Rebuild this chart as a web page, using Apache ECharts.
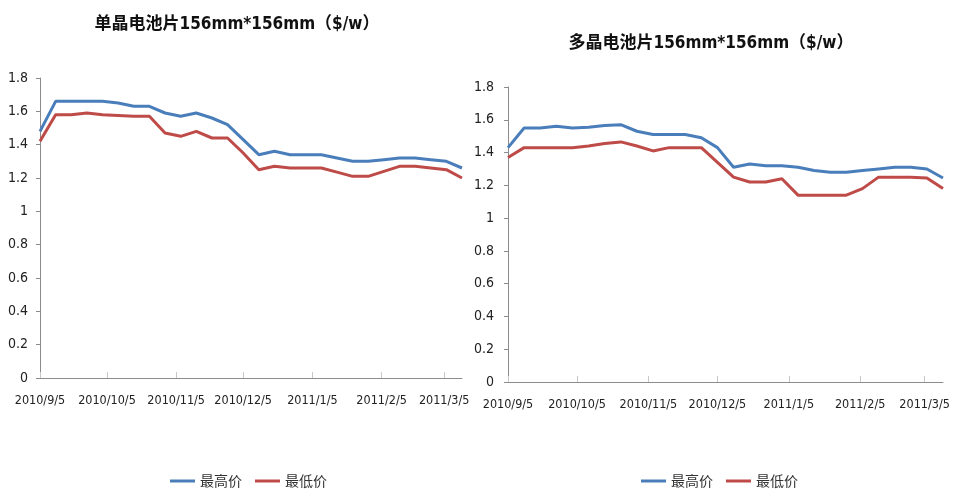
<!DOCTYPE html>
<html><head><meta charset="utf-8">
<script src="https://cdn.jsdelivr.net/npm/echarts@6/dist/echarts.min.js"></script>
<style>html,body{margin:0;padding:0;background:#fff}#c{width:956px;height:492px}</style>
</head><body><div id="c"></div>
<script>
// weekly observation dates
const weeks = ['2010/9/5','2010/9/12','2010/9/19','2010/9/26','2010/10/3','2010/10/10','2010/10/17','2010/10/24','2010/10/31','2010/11/7','2010/11/14','2010/11/21','2010/11/28','2010/12/5','2010/12/12','2010/12/19','2010/12/26','2011/1/2','2011/1/9','2011/1/16','2011/1/23','2011/1/30','2011/2/6','2011/2/13','2011/2/20','2011/2/27','2011/3/6','2011/3/13'];
const tickLabels = ['2010/9/5','2010/10/5','2010/11/5','2010/12/5','2011/1/5','2011/2/5','2011/3/5'];
const axisStart = '2010/9/5';
const axisEnd = '2011/3/13';
const seriesNames = ['最高价','最低价'];
const titles = ['单晶电池片156mm*156mm（$/w）','多晶电池片156mm*156mm（$/w）'];
// 单晶 (mono)
const monoHigh = [1.48,1.66,1.66,1.66,1.66,1.65,1.63,1.63,1.59,1.57,1.59,1.56,1.52,1.43,1.34,1.36,1.34,1.34,1.34,1.32,1.30,1.30,1.31,1.32,1.32,1.31,1.30,1.26];
const monoLow  = [1.42,1.58,1.58,1.59,1.58,1.575,1.57,1.57,1.47,1.45,1.48,1.44,1.44,1.35,1.25,1.27,1.26,1.26,1.26,1.235,1.21,1.21,1.24,1.27,1.27,1.26,1.25,1.20];
// 多晶 (poly)
const polyHigh = [1.43,1.55,1.55,1.56,1.55,1.555,1.565,1.57,1.53,1.51,1.51,1.51,1.49,1.43,1.31,1.33,1.32,1.32,1.31,1.29,1.28,1.28,1.29,1.30,1.31,1.31,1.30,1.245];
const polyLow  = [1.37,1.43,1.43,1.43,1.43,1.44,1.455,1.465,1.44,1.41,1.43,1.43,1.43,1.34,1.25,1.22,1.22,1.24,1.14,1.14,1.14,1.14,1.18,1.25,1.25,1.25,1.245,1.18];

function parseD(s){const p=s.split('/').map(Number);return Date.UTC(p[0],p[1]-1,p[2]);}
function fmtD(t){const d=new Date(t);return d.getUTCFullYear()+'/'+(d.getUTCMonth()+1)+'/'+d.getUTCDate();}
const days=[];
for(let t=parseD(axisStart);t<=parseD(axisEnd);t+=86400000) days.push(fmtD(t));

const BLUE='#4A7EBB', RED='#BE4B48', AX='#8c8c8c';
const NARROW="'Liberation Sans Narrow','DejaVu Sans Condensed','Noto Sans CJK SC',sans-serif";
const showTick=(i,v)=>tickLabels.indexOf(v)>=0;

function xAx(g){return {type:'category',gridIndex:g,data:days,boundaryGap:false,
  axisLine:{lineStyle:{color:AX,width:1}},
  axisTick:{show:true,inside:true,length:6,interval:showTick,lineStyle:{color:'#c8c8c8'}},
  axisLabel:{interval:showTick,margin:16,fontSize:12.5,color:'#222',fontFamily:NARROW},
  splitLine:{show:false}};}
function yAx(g,m){return {type:'value',gridIndex:g,min:0,max:1.8,interval:0.2,
  axisLine:{show:true,lineStyle:{color:AX,width:1}},
  axisTick:{show:true,length:4,lineStyle:{color:AX}},
  axisLabel:{margin:m,fontSize:14,color:'#222',fontFamily:NARROW},
  splitLine:{show:false}};}
function ser(name,arr,g,color){return {name:name,type:'line',xAxisIndex:g,yAxisIndex:g,
  data:weeks.map((w,i)=>[w,arr[i]]),symbol:'none',
  lineStyle:{width:3,color:color},itemStyle:{color:color},animation:false};}

const chart=echarts.init(document.getElementById('c'));
chart.setOption({
  backgroundColor:'#fff',
  animation:false,
  title:[
    {text:titles[0],left:232,top:11,textAlign:'center',textStyle:{fontSize:17,fontWeight:'bold',color:'#111',fontFamily:NARROW}},
    {text:titles[1],left:706,top:30,textAlign:'center',textStyle:{fontSize:17,fontWeight:'bold',color:'#111',fontFamily:NARROW}}
  ],
  legend:[
    {data:seriesNames,left:165,top:469,icon:'rect',itemWidth:25,itemHeight:3,itemGap:13,
     textStyle:{fontSize:14,color:'#333',fontFamily:"'Noto Sans CJK SC',sans-serif"}},
    {data:seriesNames,left:636,top:469,icon:'rect',itemWidth:25,itemHeight:3,itemGap:13,
     textStyle:{fontSize:14,color:'#333',fontFamily:"'Noto Sans CJK SC',sans-serif"}}
  ],
  grid:[
    {left:40,top:78,width:422,height:300,containLabel:false},
    {left:508,top:87,width:435,height:295,containLabel:false}
  ],
  xAxis:[xAx(0),xAx(1)],
  yAxis:[yAx(0,12),yAx(1,14)],
  series:[
    ser(seriesNames[0],monoHigh,0,BLUE),
    ser(seriesNames[1],monoLow,0,RED),
    ser(seriesNames[0],polyHigh,1,BLUE),
    ser(seriesNames[1],polyLow,1,RED)
  ]
});
</script></body></html>
